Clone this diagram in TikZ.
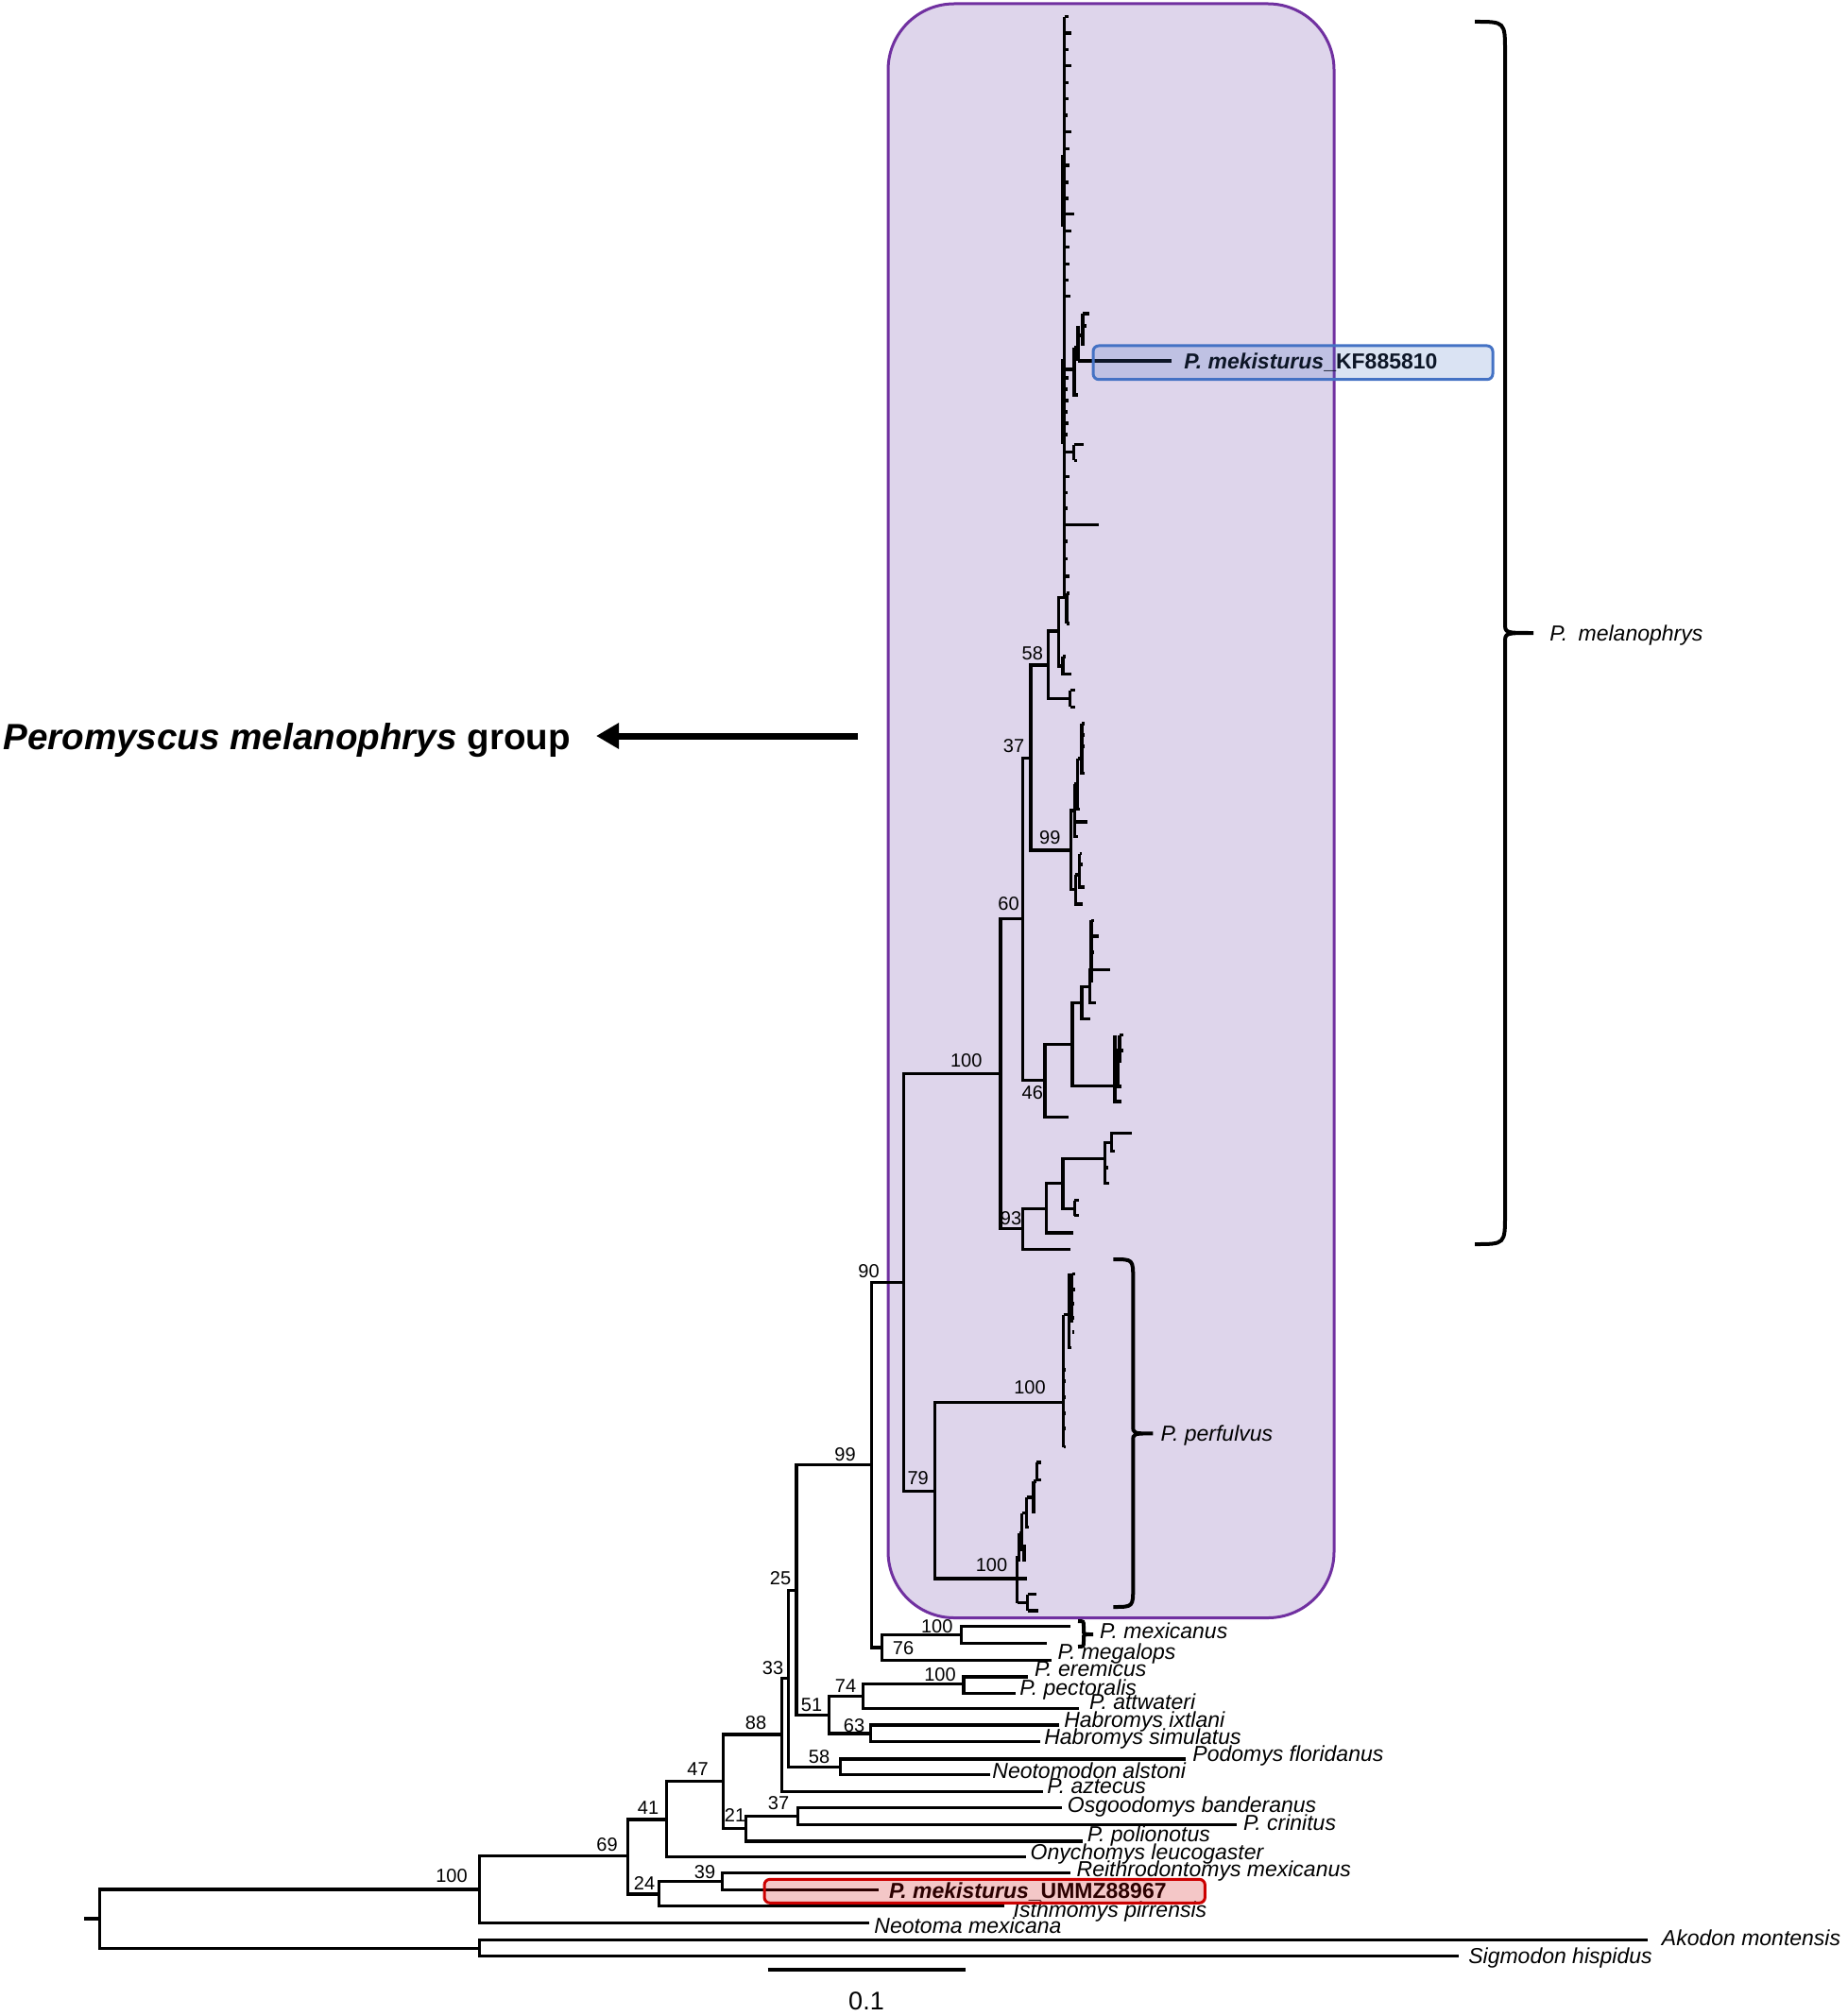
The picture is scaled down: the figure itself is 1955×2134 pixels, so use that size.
\documentclass[tikz,border=0pt]{standalone}
\usepackage{fontspec}
\setmainfont{Liberation Sans}
\usetikzlibrary{arrows.meta}
\definecolor{groupfill}{RGB}{222,213,235}
\definecolor{groupline}{RGB}{112,48,160}
\definecolor{kfblue}{RGB}{68,114,196}
\definecolor{ummzred}{RGB}{204,0,0}
% x, top, bottom, middle, hook, tip, flare
\newcommand{\cladebrace}[7]{%
  \draw[bracestroke] (#1-#5,#2) .. controls (#1,#2) .. (#1,#2+#5)
    -- (#1,#4-#7) .. controls (#1,#4) .. (#1+#6,#4)
    .. controls (#1,#4) .. (#1,#4+#7)
    -- (#1,#3-#5) .. controls (#1,#3) .. (#1-#5,#3);}
\begin{document}
\begin{tikzpicture}[x=0.5pt,y=-0.5pt,
  branch/.style={line width=1.55pt},
  clade/.style={branch,to path={|- (\tikztotarget)}},
  taxon/.style={anchor=west,inner sep=0pt,text height=8.2pt,text depth=0pt,font=\fontsize{11.5}{12}\selectfont\itshape},
  boot/.style={inner sep=0pt,text height=7.2pt,text depth=0pt,font=\fontsize{10}{11}\selectfont},
  bracestroke/.style={line width=2pt},
  bigarrow/.style={line width=3.5pt,-{Triangle[length=12pt,width=13pt]}}]
\useasboundingbox (0,0) rectangle (1955,2134);
\draw[groupline,fill=groupfill,line width=1.5pt,rounded corners=35pt] (940,4) rectangle (1412,1712.5);

\begin{scope}
% root and outgroups
\coordinate (stub) at (89,2031);
\coordinate (root) at (105.6,2031);
\coordinate (n100a) at (507.7,2000);
\coordinate (nout) at (507.7,2062.3);
\coordinate (akodon) at (1744,2053.3);
\coordinate (sigmodon) at (1544,2070.7);
\coordinate (neotoma) at (919.6,2035.7);
\coordinate (n69) at (664.8,1964.3);
\coordinate (n41) at (705.1,1926);
\coordinate (n24) at (697.4,2005);
\coordinate (n47) at (765.3,1885.3);
\coordinate (onycho) at (1085.7,1965.3);
\coordinate (n88) at (827.7,1836);
\coordinate (n21) at (789.8,1935.7);
\coordinate (n37o) at (844.6,1922.7);
\coordinate (polion) at (1146,1949);
\coordinate (osgood) at (1123.7,1913.3);
\coordinate (crinit) at (1309,1931.7);
\coordinate (n33) at (834.4,1776.7);
\coordinate (aztec) at (1103.6,1896.7);
\coordinate (n25) at (843,1683.3);
\coordinate (n58n) at (889.3,1870.7);
\coordinate (podomys) at (1255.4,1862);
\coordinate (neotomodon) at (1047.8,1878.7);
\coordinate (n99) at (922.8,1550.7);
\coordinate (n51) at (877.2,1815.7);
\coordinate (n74) at (913.8,1795.7);
\coordinate (n63) at (921.4,1835);
\coordinate (n100p) at (1020,1782.7);
\coordinate (attw) at (1141.5,1808.3);
\coordinate (pect1) at (1088,1775);
\coordinate (pect2) at (1074.6,1792.3);
\coordinate (habr1) at (1121.4,1826);
\coordinate (habr2) at (1101.3,1843.3);
\coordinate (n39) at (764.3,1991.7);
\coordinate (isthmo) at (1063.4,2017.7);
\coordinate (reithro) at (1132.6,1982.3);
\coordinate (ummz) at (929.5,2000.7);
\coordinate (n76) at (933.6,1744);
\coordinate (n100m) at (1017.4,1730.5);
\coordinate (eremic) at (1112.5,1757.3);
\coordinate (mexi1) at (1132.6,1721.7);
\coordinate (mexi2) at (1108,1739.3);
% melanophrys group
\coordinate (n90) at (956.7,1357.5);
\coordinate (n100mel) at (1059,1136.6);
\coordinate (n79) at (989.3,1578.2);
\coordinate (n100pa) at (1125.7,1484.4);
\coordinate (n100pb) at (1076.7,1671);
\coordinate (n60) at (1082.7,972.8);
\coordinate (n93) at (1082.7,1300.4);
\coordinate (n37) at (1091,802.2);
\coordinate (n46) at (1106,1143.8);
\coordinate (n58) at (1109.3,704);
\coordinate (n99i) at (1133.3,900);
\coordinate (nE) at (1120.5,668);
\coordinate (br58) at (1132.7,739.7);
\coordinate (comb) at (1126.7,632.7);
\coordinate (combtop) at (1126.7,17.9);
\coordinate (nE2) at (1125,705);
\coordinate (a99) at (1137.3,858);
\coordinate (b99) at (1138.3,941.5);
\coordinate (nF) at (1135,1105.4);
\coordinate (t46) at (1131,1182.6);
\coordinate (nH) at (1145,1061.2);
\coordinate (nG) at (1180,1149.1);
\coordinate (nI) at (1153.3,1044.2);
\coordinate (tH) at (1154,1078.6);
\coordinate (tJ) at (1175,1026.3);
\coordinate (tI) at (1160,1061.2);
\coordinate (nA) at (1107.3,1279.4);
\coordinate (t93) at (1132.7,1322.2);
\coordinate (nB) at (1125,1252.6);
\coordinate (tA) at (1136,1305);
\coordinate (nC) at (1169.3,1226.5);
\coordinate (brB) at (1137.3,1279.4);
\coordinate (nD) at (1176.7,1209.3);
\coordinate (tC) at (1174,1252.6);
\coordinate (tD1) at (1197.7,1199.8);
\coordinate (tD2) at (1180,1218.9);
\coordinate (pa_top) at (1125.7,1391.7);
\coordinate (pa_bot) at (1125.7,1531.7);
\coordinate (kf) at (1240,382);
\end{scope}

\begin{scope}
\draw[branch] (stub) -- (root);
\draw (root) edge[clade] (n100a) edge[clade] (nout);
\draw (nout) edge[clade] (akodon) edge[clade] (sigmodon);
\draw (n100a) edge[clade] (n69) edge[clade] (neotoma);
\draw (n69) edge[clade] (n41) edge[clade] (n24);
\draw (n41) edge[clade] (n47) edge[clade] (onycho);
\draw (n47) edge[clade] (n88) edge[clade] (n21);
\draw (n21) edge[clade] (n37o) edge[clade] (polion);
\draw (n37o) edge[clade] (osgood) edge[clade] (crinit);
\draw (n88) edge[clade] (n33) edge[clade] (aztec);
\draw (n33) edge[clade] (n25) edge[clade] (n58n);
\draw (n58n) edge[clade] (podomys) edge[clade] (neotomodon);
\draw (n25) edge[clade] (n99) edge[clade] (n51);
\draw (n51) edge[clade] (n74) edge[clade] (n63);
\draw (n74) edge[clade] (n100p) edge[clade] (attw);
\draw (n100p) edge[clade] (pect1) edge[clade] (pect2);
\draw (n63) edge[clade] (habr1) edge[clade] (habr2);
\draw (n24) edge[clade] (n39) edge[clade] (isthmo);
\draw (n39) edge[clade] (reithro) edge[clade] (ummz);
\draw (n99) edge[clade] (n90) edge[clade] (n76);
\draw (n76) edge[clade] (n100m) edge[clade] (eremic);
\draw (n100m) edge[clade] (mexi1) edge[clade] (mexi2);
\draw (n90) edge[clade] (n100mel) edge[clade] (n79);
\draw (n79) edge[clade] (n100pa) edge[clade] (n100pb);
\draw (n100mel) edge[clade] (n60) edge[clade] (n93);
\draw (n60) edge[clade] (n37) edge[clade] (n46);
\draw (n37) edge[clade] (n58) edge[clade] (n99i);
\draw (n58) edge[clade] (nE) edge[clade] (br58);
\draw (nE) edge[clade] (comb) edge[clade] (nE2);
\draw (n99i) edge[clade] (a99) edge[clade] (b99);
\draw (n46) edge[clade] (nF) edge[clade] (t46);
\draw (nF) edge[clade] (nH) edge[clade] (nG);
\draw (nH) edge[clade] (nI) edge[clade] (tH);
\draw (nI) edge[clade] (tJ) edge[clade] (tI);
\draw (n93) edge[clade] (nA) edge[clade] (t93);
\draw (nA) edge[clade] (nB) edge[clade] (tA);
\draw (nB) edge[clade] (nC) edge[clade] (brB);
\draw (nC) edge[clade] (nD) edge[clade] (tC);
\draw (nD) edge[clade] (tD1) edge[clade] (tD2);
\end{scope}

\begin{scope}[every path/.style={branch}]
% upper comb
\draw (comb) -- (combtop);
\draw (1124.3,164) -- (1124.3,240) (1124.3,380) -- (1124.3,470);
\foreach \y/\l in {17.9/4,35/7,52.9/4,69.6/7,87.5/4,104.6/4,122/3,139.3/7,157.1/5,175/5,193/4,210/4,226.8/10,244.6/7,261.8/5,279.3/5,296.4/4,313.6/6,400/4,412/3,424/4,436/3,448/4,460/3,504.6/5,521.4/3,538/3,555.4/36,573/3,591.7/3,610/5}
  \draw (1126.7,\y) -- ++(\l,0);
\draw (1126.7,391) -- (1137,391) (1137,368) -- (1137,418) -- (1141,418);
\draw (1137,368) -- (1141,368) (1141,345) -- (1141,382);
\draw (1141,382) -- (kf);
\draw (1141,355) -- (1146,355) (1146,332) -- (1146,366);
\draw (1146,332) -- (1153,332) (1146,345) -- (1150,345);
\draw (1126.7,478.6) -- (1136.7,478.6) (1136.7,470.7) -- (1136.7,487.5);
\draw (1136.7,470.7) -- (1147.3,470.7) (1136.7,487.5) -- (1140,487.5);
\draw (1129,628) -- (1129,660) (1129,628) -- (1132,628) (1129,660) -- (1132,660);
\draw (1125,695) -- (1125,713.3) -- (1134,713.3) (1125,695) -- (1128,695);
\draw (1132.7,730.7) -- (1132.7,748.3) (1132.7,730.7) -- (1138.3,730.7) (1132.7,748.3) -- (1138.3,748.3);
% 99 subclades
\draw (1137.3,830) -- (1137.3,885.7) -- (1141,885.7) (1137.3,870) -- (1150.7,870);
\draw (1137.3,830) -- (1140.7,830) (1140.7,803) -- (1140.7,856.7) -- (1143,856.7);
\draw (1140.7,803) -- (1145,803) (1145,766) -- (1145,818.7) -- (1148,818.7);
\foreach \y in {766,778,790} \draw (1145,\y) -- ++(3,0);
\draw (1138.3,926) -- (1138.3,957) -- (1146,957) (1138.3,926) -- (1142.7,926);
\draw (1142.7,903.6) -- (1142.7,939) -- (1148,939) (1142.7,903.6) -- (1145,903.6) (1142.7,915) -- (1145.5,915);
% 46 subclades
\draw (1155,974.1) -- (1155,1040) (1155,974.1) -- (1158.3,974.1) (1155,991) -- (1162.7,991) (1155,1008) -- (1158,1008);
\draw (1180,1095.5) -- (1180,1166) -- (1186.7,1166) (1180,1130) -- (1183.3,1130);
\draw (1183.3,1110) -- (1183.3,1150) -- (1187,1150) (1183.3,1110) -- (1185,1110);
\draw (1185,1095.5) -- (1185,1125) (1185,1095.5) -- (1189.3,1095.5) (1185,1112) -- (1189.3,1112);
% 93 subclades
\draw (1137.3,1270.5) -- (1137.3,1286.6) (1137.3,1270.5) -- (1141.7,1270.5) (1137.3,1286.6) -- (1141.7,1286.6);
\draw (1169.3,1236) -- (1173,1236);
% perfulvus
\draw (pa_top) -- (pa_bot);
\draw (pa_top) -- (1131.7,1391.7) (1131.7,1348.3) -- (1131.7,1426.7) -- (1134,1426.7);
\draw (1131.7,1360) -- (1134.5,1360) (1134.5,1348.3) -- (1134.5,1400);
\foreach \y/\l in {1348.3/3,1365/3,1380/2.5,1395/2,1410/2.5} \draw (1134.5,\y) -- ++(\l,0);
\foreach \y in {1450,1462,1479,1496,1512,1531.7} \draw (1125.7,\y) -- ++(2.5,0);
\draw (1076.7,1646.7) -- (1076.7,1696.7) (1076.7,1671) -- (1086.7,1671);
\draw (1076.7,1646.7) -- (1078.5,1646.7) (1078.5,1623) -- (1078.5,1653);
\draw (1078.5,1623) -- (1081.7,1623) (1081.7,1601.7) -- (1081.7,1640) -- (1086,1640) (1084,1635) -- (1084,1653);
\draw (1081.7,1601.7) -- (1086.7,1601.7) (1086.7,1585) -- (1086.7,1616.7) -- (1089,1616.7);
\draw (1086.7,1585) -- (1094,1585) (1094,1568) -- (1094,1600) -- (1096,1600);
\draw (1094,1568) -- (1097.3,1568) (1097.3,1548) -- (1097.3,1567);
\draw (1097.3,1548) -- (1102.3,1548) (1097.3,1566.7) -- (1102.3,1566.7);
\draw (1076.7,1696.7) -- (1087.7,1696.7) (1087.7,1687.7) -- (1087.7,1705);
\draw (1087.7,1687.7) -- (1096.7,1687.7) (1087.7,1705) -- (1099.3,1705);
\end{scope}

\begin{scope}[every node/.style={boot}]
\node (b1) at (478,1985) {100};
\node (b2) at (642.5,1952.7) {69};
\node (b3) at (686,1913) {41};
\node (b4) at (738.5,1872.7) {47};
\node (b5) at (800,1823) {88};
\node (b6) at (778,1921.7) {21};
\node (b7) at (746,1981.7) {39};
\node (b8) at (682,1993) {24};
\node (b9) at (818,1765) {33};
\node (b10) at (826,1670) {25};
\node (b11) at (894.5,1539) {99};
\node (b12) at (859,1804) {51};
\node (b13) at (895,1784) {74};
\node (b14) at (995,1772.7) {100};
\node (b15) at (904,1826) {63};
\node (b16) at (867,1859.3) {58};
\node (b17) at (824,1908.3) {37};
\node (b18) at (991.7,1721.7) {100};
\node (b19) at (956,1744) {76};
\node (b20) at (919.5,1345.2) {90};
\node (b21) at (971.7,1564.3) {79};
\node (b22) at (1090,1468) {100};
\node (b23) at (1049.5,1656) {100};
\node (b24) at (1022.7,1122.3) {100};
\node (b25) at (1067.5,956.3) {60};
\node (b26) at (1073,789.7) {37};
\node (b27) at (1092.8,691) {58};
\node (b28) at (1111.3,886.7) {99};
\node (b29) at (1092.8,1155.8) {46};
\node (b30) at (1070,1289.7) {93};
\end{scope}

\begin{scope}[every node/.style={taxon}]
\node (lmexicanus) at (1163.8,1726.7) {P. mexicanus};
\node (lmegalops) at (1119.2,1748.3) {P. megalops};
\node (leremicus) at (1094.6,1766.7) {P. eremicus};
\node (lpectoralis) at (1079,1786.7) {P. pectoralis};
\node (lattwateri) at (1152.7,1801.7) {P. attwateri};
\node (lixtlani) at (1125.9,1820) {Habromys ixtlani};
\node (lsimulatus) at (1104.9,1838.3) {Habromys simulatus};
\node (lpodomys) at (1262,1856.7) {Podomys floridanus};
\node (lneotomodon) at (1050,1874) {Neotomodon alstoni};
\node (laztecus) at (1108,1890) {P. aztecus};
\node (losgood) at (1129.5,1910) {Osgoodomys banderanus};
\node (lcrinitus) at (1315.6,1929.3) {P. crinitus};
\node (lpolionotus) at (1150.4,1941.7) {P. polionotus};
\node (lonycho) at (1090.2,1960) {Onychomys leucogaster};
\node (lreithro) at (1139.3,1978.3) {Reithrodontomys mexicanus};
\node (listhmo) at (1072.3,2021.7) {Isthmomys pirrensis};
\node (lneotoma) at (925,2038.3) {Neotoma mexicana};
\node (lakodon) at (1758.5,2051.7) {Akodon montensis};
\node (lsigmodon) at (1553.9,2070) {Sigmodon hispidus};
\node (lperfulvus) at (1228.3,1517.4) {P. perfulvus};
\node (lmelano) at (1640,670) {P.\enspace melanophrys};
\node[font=\fontsize{11.5}{12}\selectfont\bfseries] (lkf) at (1253,382) {\textit{P. mekisturus}\_KF885810};
\node[font=\fontsize{11.5}{12}\selectfont\bfseries] (lummz) at (940.6,2001.7) {\textit{P. mekisturus}\_UMMZ88967};
\end{scope}

\draw[kfblue,line width=1.5pt,fill=kfblue,fill opacity=0.2,rounded corners=3pt] (1157,366) rectangle (1580,401.7);
\draw[ummzred,line width=1.5pt,fill=ummzred,fill opacity=0.22,rounded corners=3pt] (809,1989.3) rectangle (1275.4,2014.3);

\cladebrace{1593}{23}{1317}{670}{32}{30}{10}
\cladebrace{1199.3}{1333}{1701}{1517.4}{21}{21}{8}
\cladebrace{1147}{1716}{1743}{1730}{6}{10}{4}

\node[anchor=base west,inner sep=0pt,font=\fontsize{19.3}{22}\selectfont\bfseries] (grouplabel) at (3,793) {\textit{Peromyscus melanophrys} group};
\coordinate (arrowstart) at (908,779);
\coordinate (arrowtip) at (631,779);
\draw[bigarrow] (arrowstart) -- (arrowtip);

\coordinate (sb1) at (812.5,2085);
\coordinate (sb2) at (1022.3,2085);
\draw[branch] (sb1) -- (sb2);
\node[inner sep=0pt,font=\fontsize{13.5}{14}\selectfont] (sblabel) at (917,2118) {0.1};
\end{tikzpicture}
\end{document}
